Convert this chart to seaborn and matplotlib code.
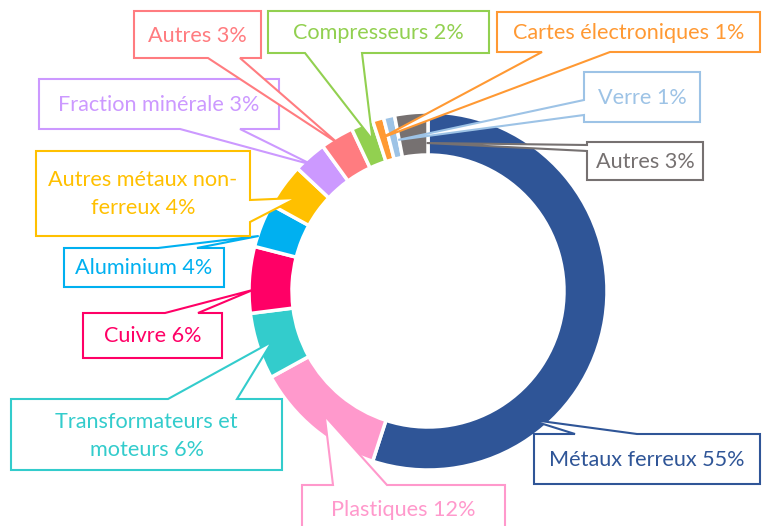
import numpy as np
import matplotlib
matplotlib.use("Agg")
import matplotlib.pyplot as plt
from matplotlib.patches import Polygon
import seaborn as sns

# data, clockwise from 12 o'clock
labels = ['Métaux ferreux 55%', 'Plastiques 12%', 'Transformateurs et\nmoteurs 6%',
          'Cuivre 6%', 'Aluminium 4%', 'Autres métaux non-\nferreux 4%',
          'Fraction minérale 3%', 'Autres 3%', 'Compresseurs 2%',
          'Cartes électroniques 1%', 'Verre 1%', 'Autres 3%']
values = [55, 12, 6, 6, 4, 4, 3, 3, 2, 1, 1, 3]
colors = ['#2F5597', '#FF99CC', '#33CCCC', '#FF0066', '#00B0F0', '#FFC000',
          '#CC99FF', '#FF7C80', '#92D050', '#FF9933', '#9DC3E6', '#767171']

# callout layout in pixel coords (x0, y0, x1, y1), side of pointer, pointer base
boxes = [(534, 434, 760, 484), (302, 485, 505, 532), (11, 399, 282, 470),
         (83, 313, 222, 358), (64, 248, 224, 287), (36, 151, 250, 236),
         (39, 79, 279, 129), (134, 11, 261, 58), (268, 11, 489, 53),
         (497, 12, 760, 52), (584, 72, 700, 122), (587, 142, 703, 180)]
sides = ['top', 'top', 'top', 'top', 'top', 'right',
         'bottom', 'bottom', 'bottom', 'bottom', 'left', 'left']
bases = [(575, 637), (333, 387), (168, 237), (165, 198), (158, 197), (200, 222),
         (180, 240), (208, 240), (305, 362), (542, 610), (100, 115), (145, 151)]
# where the pointer tip sits: fraction along the slice, radius in px
tip_frac = [0.717, 0.5, 0.5, 0.35, 0.25, 0.45, 0.4, 0.43, 0.7, 0.3, 0.9, 0.95]
tip_rad = [163, 162, 164, 175, 178, 161, 171, 173, 161, 160, 154, 148]

cx, cy, r_out, r_in = 428, 291, 179, 136

sns.set_theme(style="white")
plt.rcParams['font.family'] = ['Lato', 'DejaVu Sans']

fig = plt.figure(figsize=(7.62, 5.26), dpi=100)
ax = fig.add_axes([0, 0, 1, 1])
palette = sns.color_palette(colors)

# y axis is inverted below, so start at -90 and go "counterclock" to get clockwise on screen
ax.pie(values, colors=palette, startangle=-90, counterclock=True,
       center=(cx, cy), radius=r_out,
       wedgeprops=dict(width=r_out - r_in, edgecolor='white', linewidth=2.5))
ax.set_xlim(0, 762)
ax.set_ylim(526, 0)
ax.set_aspect('equal')
ax.axis('off')


def callout(box, side, base, tip, color, text):
    x0, y0, x1, y1 = box
    b0, b1 = base
    if side == 'top':
        pts = [(x0, y0), (b0, y0), tip, (b1, y0), (x1, y0), (x1, y1), (x0, y1)]
    elif side == 'bottom':
        pts = [(x0, y0), (x1, y0), (x1, y1), (b1, y1), tip, (b0, y1), (x0, y1)]
    elif side == 'right':
        pts = [(x0, y0), (x1, y0), (x1, b0), tip, (x1, b1), (x1, y1), (x0, y1)]
    else:
        pts = [(x0, y0), (x1, y0), (x1, y1), (x0, y1), (x0, b1), tip, (x0, b0)]
    ax.add_patch(Polygon(pts, closed=True, facecolor='white', edgecolor=color,
                         linewidth=1.5, zorder=5, clip_on=False))
    ax.text((x0 + x1) / 2, (y0 + y1) / 2 + 1, text, color=color, fontsize=15.6,
            ha='center', va='center', linespacing=1.5, zorder=6)


cum = np.concatenate([[0], np.cumsum(values)])
for i, lab in enumerate(labels):
    pct = cum[i] + tip_frac[i] * values[i]
    th = np.deg2rad(-90 + pct * 3.6)
    tip = (cx + tip_rad[i] * np.cos(th), cy + tip_rad[i] * np.sin(th))
    callout(boxes[i], sides[i], bases[i], tip, colors[i], lab)

fig.savefig('out.png', dpi=100)
